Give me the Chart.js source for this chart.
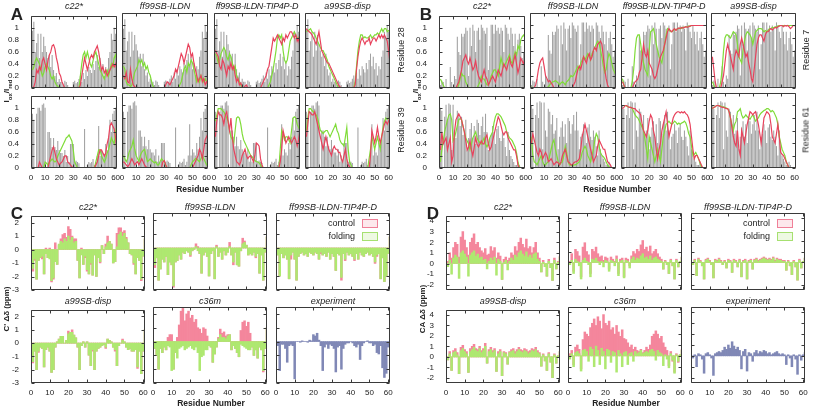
<!DOCTYPE html>
<html><head><meta charset="utf-8">
<script src="https://cdn.jsdelivr.net/npm/chart.js@4.4.1/dist/chart.umd.min.js"></script>
<style>
html,body{margin:0;padding:0;background:#fff}
body{width:813px;height:409px;position:relative;overflow:hidden;font-family:"Liberation Sans",Arial,sans-serif;color:#222}
canvas{position:absolute}
</style></head><body>
<script>
// ---------- categories / ticks ----------
const RESIDUES = Array.from({length:61},(_,i)=>i+1);
const X_TICKS = [0,10,20,30,40,50,60];
const AB_YTICKS = [0,0.2,0.4,0.6,0.8,1];
const C_YTICKS = [-3,-2,-1,0,1,2];
const D_YTICKS = [-2,-1,0,1,2,3,4];
const MODELS_AB = ['c22*','ff99SB-ILDN','ff99SB-ILDN-TIP4P-D','a99SB-disp'];
const MODELS_CD_ROW1 = ['c22*','ff99SB-ILDN','ff99SB-ILDN-TIP4P-D'];
const MODELS_CD_ROW2 = ['a99SB-disp','c36m','experiment'];

// ---------- Panel A, residue 28 ----------
const A28_GRAY=[.95,1.1,.6,.75,.9,.5,.9,.6,.85,.7,.6,.5,.55,.35,.55,.3,.2,.25,.1,.15,.1,.1,.05,.12,.1,.05,0,0,0,.1,.12,.08,.1,.15,.2,.1,.25,.15,.3,.2,.35,.3,.25,.4,.3,.45,.55,.35,.5,.3,.4,.2,.35,.3,.5,.6,.9,.8,1.0,.9,.7];
const A28_C22_RED=[0,.02,.1,.3,.25,.35,.3,.45,.5,.4,.3,.45,.55,.6,.7,.72,.65,.5,.4,.25,.2,.1,.05,0,0,0,0,0,0,0,0,0,0,0,.05,.2,.35,.5,.4,.3,.4,.5,.55,.5,.6,.65,.7,.6,.45,.3,.35,.25,.3,.2,.25,.3,.35,.4,.35,.4,.3];
const A28_C22_GRN=[.3,.35,.45,.5,.45,.4,.3,.2,.25,.35,.4,.35,.3,.2,.15,.2,.1,.05,.03,0,0,0,0,0,0,0,0,0,0,0,0,0,0,0,.2,.4,.55,.6,.5,.6,.5,.4,.35,.45,.55,.6,.5,.4,.3,.25,.2,.15,.25,.3,.2,.3,.4,.35,.5,.55,.45];
const A28_FF_RED=[.2,.15,.25,.1,.08,.3,.15,.05,.02,0,0,0,0,0,0,0,0,0,0,0,0,0,0,0,0,0,0,0,0,0,.05,.1,.08,.05,.1,.15,.2,.3,.25,.35,.45,.55,.5,.4,.5,.6,.7,.65,.5,.55,.4,.3,.2,.1,.15,.2,.1,.15,.05,.1,.05];
const A28_FF_GRN=[.35,.3,.1,.05,.05,.02,.05,.15,.25,.3,.35,.45,.4,.45,.35,.4,.3,.35,.25,.2,.1,.03,0,0,0,0,0,0,0,0,0,0,0,0,0,0,0,0,0,0,.05,.1,.2,.3,.35,.25,.4,.35,.45,.4,.3,.2,.1,.15,.1,.2,.15,.1,.15,.1,.05];
const A28_T4_RED=[.6,.55,.5,.35,.3,.45,.4,.3,.2,.35,.3,.4,.3,.35,.2,.1,.15,.05,.08,.02,0,.03,.05,0,0,0,0,0,0,0,0,0,0,.05,.1,.15,.2,.3,.35,.5,.65,.8,.75,.8,.85,.8,.75,.7,.8,.75,.85,.8,.85,.9,.9,.85,.8,.85,.75,.8,.65];
const A28_T4_GRN=[.55,.5,.4,.45,.55,.6,.65,.6,.5,.45,.55,.5,.4,.3,.35,.2,.15,.1,.05,0,0,0,0,0,0,0,0,0,0,0,0,0,0,0,0,0,0,0,.05,.1,.2,.3,.45,.6,.8,.85,.8,.85,.6,.45,.4,.45,.6,.75,.8,.85,.9,.85,.8,.8,.75];
const A28_A99_RED=[.95,.92,.9,.88,.85,.8,.75,.7,.8,.9,.75,.6,.55,.5,.45,.4,.4,.35,.3,.25,.2,.15,.1,.05,.02,0,0,0,0,0,0,0,0,0,0,.05,.3,.5,.65,.75,.8,.75,.7,.75,.75,.8,.7,.75,.8,.8,.75,.8,.85,.8,.85,.8,.85,.8,.75,.6,.4];
const A28_A99_GRN=[.9,.92,.93,.95,.9,.88,.85,.8,.75,.7,.65,.6,.6,.55,.5,.45,.35,.3,.25,.2,.15,.1,.05,0,0,0,0,0,0,0,0,0,0,0,0,.1,.35,.6,.75,.85,.85,.8,.82,.8,.8,.82,.85,.8,.82,.85,.85,.88,.85,.9,.95,.9,.95,.95,.9,.92,.9];

// ---------- Panel A, residue 39 ----------
const A39_GRAY=[.9,.8,0,.9,1.0,1.0,.95,1.05,1.07,1.0,0,.6,.6,.5,.35,.5,.35,.3,.45,.3,.25,.25,.2,.3,.1,.2,.1,.4,.4,.4,.1,.12,.1,.08,0,0,0,.65,0,.05,.1,.08,.1,.15,.05,.1,.2,.7,.2,.3,.25,.2,.4,.3,.5,.8,.6,.9,.95,1.0,.6];
const A39_C22_RED=[0,0,0,0,0,.1,.05,0,0,0,0,0,.1,.2,.3,.35,.25,.15,.1,.05,.08,.1,.15,.2,.2,.1,.08,.05,.02,0,0,0,0,0,0,0,0,0,0,0,0,0,0,0,0,.05,.1,.2,.3,.3,.25,.2,.25,.4,.5,.7,.75,.7,.65,.5,.3];
const A39_C22_GRN=[0,0,0,0,0,0,0,0,0,.1,.08,.05,.1,.12,.15,.12,.1,.12,.2,.25,.3,.35,.4,.45,.5,.52,.55,.5,.45,.3,.1,.05,0,0,0,0,0,0,0,0,0,0,0,0,0,.1,.2,.3,.3,.2,.15,.1,.15,.25,.3,.4,.5,.45,.4,.6,.7];
const A39_FF_RED=[.1,.08,.05,.02,.05,.1,.15,.1,.05,.08,.1,.05,.1,.15,.1,.05,.02,0,0,0,0,0,0,0,0,0,0,0,.1,.12,.05,0,0,0,0,0,0,0,0,0,0,0,0,0,0,0,0,0,0,0,.05,.1,.15,.2,.3,.25,.15,.3,.45,.5,.55];
const A39_FF_GRN=[.2,.15,.1,.15,.25,.3,.35,.45,.3,.2,.15,.1,.2,.25,.28,.3,.2,.1,.12,.15,.12,.1,.08,.1,.05,.05,.1,.15,.12,.1,.05,0,0,0,0,0,0,0,0,0,0,0,0,0,0,0,0,0,.05,.1,.12,.15,.15,.12,.1,.15,.2,.15,.1,.05,.03];
const A39_T4_RED=[.5,.75,.9,.85,.85,.8,.7,.85,.9,.75,.6,.8,.5,.3,.2,.1,.08,.05,.1,.2,.25,.3,.2,.15,.18,.2,.15,.1,.2,.4,.38,.35,.15,.05,0,0,0,0,0,0,0,0,0,0,0,0,.1,.3,.6,.5,.4,.45,.5,.45,.4,.45,.5,.45,.35,.45,.6];
const A39_T4_GRN=[.75,.85,.95,.95,.95,.92,.9,.85,.8,.75,.6,.5,.45,.4,.6,.8,.82,.8,.7,.55,.45,.4,.35,.3,.25,.2,.18,.15,.12,.1,.1,.08,.05,.02,0,0,0,0,0,0,0,0,0,0,0,0,.3,.6,.55,.45,.5,.5,.45,.4,.6,.8,.82,.8,.7,.65,.6];
const A39_A99_RED=[.5,.7,.9,.88,.85,.85,.9,.8,.7,.6,.5,.4,.3,.4,.5,.4,.3,.25,.2,.3,.35,.3,.3,.25,.25,.15,.1,.2,.3,.15,.05,.02,0,0,0,0,0,0,0,0,0,0,0,0,0,0,.2,.6,.5,.4,.5,.65,.5,.4,.5,.6,.7,.75,.7,.75,.8];
const A39_A99_GRN=[.6,.8,.95,.95,.92,.9,.88,.85,.8,.7,.6,.58,.55,.58,.6,.6,.55,.5,.55,.6,.65,.7,.6,.55,.45,.4,.38,.35,.5,.65,.3,.1,.05,0,0,0,0,0,0,0,0,0,0,0,0,.15,.3,.5,.4,.3,.4,.5,.4,.3,.5,.65,.75,.8,.78,.8,.8];

// ---------- Panel B, residue 7 ----------
const B7_GRAY=[.05,.12,.1,0,.15,0,0,.35,.1,0,.2,.15,.85,.6,.55,.9,.85,.9,1.0,.95,.2,1.0,.7,1.05,.95,.6,.95,1.0,.8,1.05,1.0,.95,.9,1.0,.3,.7,1.05,1.05,.9,1.05,.95,1.0,.9,1.0,.95,.6,1.05,1.0,.9,.8,1.0,.9,.7,.9,.6,.8,.9,.7,.5,.6,.4];
const B7_C22_RED=[0,0,0,0,0,0,0,0,0,0,0,0,.05,.1,.2,.3,.45,.5,.55,.45,.4,.5,.4,.3,.35,.45,.3,.2,.15,.1,.2,.3,.2,.15,.05,.1,.15,.2,.15,.1,.2,.3,.25,.2,.3,.4,.35,.3,.4,.5,.4,.35,.45,.55,.4,.25,.35,.5,.45,.4,.5];
const B7_C22_GRN=[.15,.1,.05,0,0,0,0,0,0,0,0,0,0,.05,.15,.25,.2,.2,.1,.05,0,0,0,0,0,0,0,.05,.1,.2,.15,.15,.1,.05,.05,.1,.2,.25,.3,.3,.25,.2,.35,.5,.4,.35,.4,.45,.5,.55,.45,.4,.5,.6,.55,.7,.65,.8,.85,.88,.85];
const B7_FF_RED=[0,0,0,.05,.15,.3,.4,.45,.48,.35,.2,.15,.1,.12,.08,.05,0,0,0,0,0,0,0,0,0,0,0,0,0,0,.05,.1,.2,.3,.35,.3,.4,.5,.45,.4,.5,.55,.45,.5,.6,.65,.6,.7,.72,.75,.7,.5,.3,.15,.05,0,0,0,0,0,0];
const B7_FF_GRN=[.02,0,0,0,0,0,0,0,0,0,0,0,.02,.05,.08,.1,.1,.12,.1,.08,.05,.08,.1,.08,.05,.1,.12,.15,.2,.18,.2,.25,.3,.35,.3,.4,.45,.5,.45,.5,.55,.5,.45,.55,.6,.65,.7,.75,.72,.6,.5,.35,.25,.3,.45,.55,.5,.4,.3,.25,.2];
const B7_T4_RED=[.1,.05,0,0,0,0,0,0,.05,.1,.12,.15,.25,.3,.5,.7,.55,.5,.6,.4,.35,.3,.2,.15,.2,.3,.4,.5,.55,.6,.7,.8,.9,.95,.92,.9,.93,.95,.92,.95,.96,.95,.97,.96,.97,.98,.97,.98,.99,1,1,1,1,1,1,1,1,1,1,1,1];
const B7_T4_GRN=[.15,.05,0,0,0,0,0,.1,.3,.6,.8,.85,.85,.7,.5,.4,.3,.25,.2,.6,.9,.92,.95,.85,.7,.6,.5,.45,.4,.55,.7,.85,.95,.93,.9,.9,.92,.94,.93,.95,.95,.96,.95,.97,.97,.98,.98,.99,.99,1,1,1,1,1,1,1,1,1,1,1,1];
const B7_A99_RED=[.5,.3,.1,0,0,0,0,.1,.2,.4,.6,.7,.6,.5,.4,.3,.5,.6,.55,.5,.7,.8,.7,.6,.5,.55,.4,.3,.15,.1,.3,.5,.7,.8,.85,.85,.8,.75,.85,.9,.9,.93,.95,.93,.95,.97,.96,.98,.99,1,1,.98,1,.99,1,.98,.95,.97,1,1,.98];
const B7_A99_GRN=[.1,.05,0,0,0,0,.1,.3,.6,.8,.85,.85,.82,.8,.85,.9,.88,.85,.7,.5,.45,.4,.6,.75,.85,.9,.88,.85,.8,.7,.8,.9,.92,.95,.95,.95,.93,.9,.92,.9,.92,.95,.95,.97,.96,.98,.98,.99,1,1,1,1,1,1,1,1,1,1,1,1,1];

// ---------- Panel B, residue 61 ----------
const B61_GRAY=[1.0,.95,0,.85,1.05,.8,1.07,1.05,.3,1.05,.6,.5,.95,.9,.7,.85,.55,.6,.8,.3,.5,.65,.75,.5,.7,.4,.8,.75,.55,.7,.85,.6,.9,.6,.3,.5,.55,.7,.6,.4,.65,.7,.5,.45,.6,.5,.35,.2,.6,.3,.2,.15,.1,.05,.05,.1,.05,0,0,0,0];
const B61_C22_RED=[.3,.6,.4,.45,.5,.3,.4,.5,.1,.2,.6,.8,.85,.9,.85,.8,.7,.6,.45,.3,.35,.45,.3,.2,.35,.5,.4,.35,.4,.45,.4,.4,.5,.55,.4,.3,.35,.45,.55,.65,.75,.85,.8,.7,.6,.55,.6,.6,.5,.45,.4,.35,.3,.3,.2,.05,0,0,0,0,0];
const B61_C22_GRN=[.1,.3,.45,.6,.7,.8,.88,.9,.8,.45,.5,.6,.7,.8,.82,.8,.7,.6,.5,.45,.4,.3,.4,.5,.55,.6,.5,.45,.42,.4,.45,.5,.4,.35,.4,.5,.55,.6,.75,.85,.9,.9,.88,.85,.8,.75,.7,.6,.55,.5,.48,.45,.4,.35,.25,.1,.02,0,0,0,0];
const B61_FF_RED=[.4,.55,.45,.35,.25,.2,.3,.25,.15,.2,.25,.2,.1,.12,.15,.1,.05,.08,.1,.08,.05,.1,.2,.25,.3,.2,.1,.08,.05,.05,.08,.1,.1,.12,.15,.3,.5,.6,.7,.6,.5,.4,.3,.2,.1,.15,.2,.35,.45,.4,.35,.3,.3,.2,.1,.08,.05,0,0,0,0];
const B61_FF_GRN=[.5,.2,.1,.08,.05,.1,.15,.2,.1,.05,.05,.08,.1,.2,.3,.4,.45,.3,.2,.1,.05,.08,.1,.2,.35,.25,.1,.05,.05,.03,.05,.05,.06,.08,.1,.15,.25,.3,.35,.3,.2,.15,.1,.2,.3,.45,.55,.5,.35,.25,.2,.18,.15,.1,.05,.02,0,0,0,0,0];
const B61_T4_RED=[.95,.97,1,1,.98,.97,.97,.96,.95,.95,.92,.9,.88,.85,.7,.6,.55,.5,.6,.75,.85,.8,.6,.5,.3,.15,.3,.4,.6,.7,.8,.9,.7,.5,.6,.7,.8,.85,.88,.9,.9,.88,.9,.88,.9,.87,.85,.8,.7,.5,.3,.15,.2,.2,.15,.1,.05,0,0,0,0];
const B61_T4_GRN=[1,1,1,.99,.98,.97,.97,.95,.9,.85,.82,.8,.75,.7,.65,.6,.45,.3,.15,.5,.4,.3,.2,.1,.2,.3,.2,.1,.3,.5,.6,.7,.72,.75,.72,.7,.72,.75,.73,.7,.72,.7,.72,.73,.75,.72,.65,.55,.5,.35,.2,.22,.25,.2,.15,.08,.02,0,0,0,0];
const B61_A99_RED=[.95,.97,.98,1,1,.99,.98,.97,.97,.96,.95,.95,.9,.8,.65,.5,.4,.35,.6,.3,.2,.6,.5,.4,.55,.7,.8,.9,.88,.85,.88,.9,.8,.7,.55,.4,.6,.8,.85,.9,.88,.85,.7,.5,.45,.4,.55,.7,.5,.25,.22,.2,.15,.1,.05,0,0,0,0,0,0];
const B61_A99_GRN=[.95,.97,.98,1,1,1,.99,.98,.98,.97,.96,.95,.9,.8,.7,.6,.7,.75,.9,.92,.95,.85,.8,.82,.85,.82,.8,.78,.82,.85,.8,.75,.78,.8,.85,.88,.9,.92,.93,.95,.95,.93,.9,.92,.9,.85,.8,.7,.5,.4,.3,.25,.2,.1,.05,0,0,0,0,0,0];

// ---------- Panel C (C' delta delta, ppm) ----------
const C_C22_CTRL=[-1.6,-.8,-2.2,-.8,-.6,-.7,-1.8,.1,-.6,.1,-2.4,-2.2,.5,-1.1,.3,.8,1.1,1.2,.9,1.7,1.5,1.0,.8,.8,-.8,-2.1,.1,-1.1,-.6,-1.6,-1.8,-1.1,-1.9,-.4,-2.0,-.6,-1.0,.3,-.3,.4,1.0,.6,.4,-1.0,-.9,1.2,1.6,1.6,1.3,1.4,.9,.5,-.3,-.4,-1.1,-1.8,-.6,-.8,-2.3,-.5,.8];
const C_C22_FOLD=[-1.4,-.7,-2.2,-.8,-.6,-.5,-1.8,-.3,-.6,-.7,-2.3,-2.1,-.9,-1.1,.4,.6,.5,.8,.6,1.0,.7,.9,.5,.6,-.8,-2.1,-.4,-1.1,-.5,-1.5,-1.8,-1.0,-1.9,-.4,-2.0,-.6,-.9,.3,-.3,.2,.5,.6,.4,-1.0,-.9,.2,1.1,1.3,1.0,1.2,.8,.5,-.3,-.4,-1.0,-1.8,-.6,-.8,-2.2,-.5,.8];
const C_FF_CTRL=[-1.4,-.7,-2.3,-1.5,-.8,-1.0,-.6,-1.9,-1.0,-1.2,-2.8,-1.0,-.9,-.5,-.8,-.3,-.4,-.2,-.3,-.6,-.2,-.1,.3,.1,-.4,-1.8,-.5,-.3,-.6,-2.0,-.4,-.2,-2.2,.2,-.6,-.3,-.8,-.2,-.5,-.3,.4,-.5,-1.2,-.3,-1.2,-1.3,-.2,.7,.5,.2,-.5,-.4,-.5,-.3,-.7,-.4,-1.8,-.5,-2.3,-.3,.8];
const C_FF_FOLD=[-1.2,-.7,-2.3,-1.5,-.8,-1.0,-.6,-1.9,-1.0,-1.2,-2.7,-1.0,-.9,-.5,-.8,-.3,-.4,-.2,-.3,-.5,-.2,-.1,.1,-.2,-.4,-1.8,-.5,-.3,-.6,-2.0,-.4,-.2,-2.2,.1,-.6,-.3,-.8,-.2,-.5,-.3,.1,-.5,-1.0,-.3,-1.2,-1.3,-.2,.3,.4,.2,-.5,-.4,-.5,-.3,-.6,-.4,-1.8,-.5,-2.3,-.3,.8];
const C_T4_CTRL=[-.5,-2.0,-.4,-.7,-.5,-.8,-2.2,-.8,-.3,-.8,-2.3,-.6,-.4,-.3,-.5,-.4,-.6,-.3,-.4,-.5,-.3,-.4,-.8,-.4,-.5,-.4,-.6,-.3,-.8,-.4,-.6,-1.6,-.4,-.5,-2.3,-.4,-.9,-.3,-.5,-.4,-.6,-.9,-.4,-.8,-.3,-.5,-.6,-.4,-.3,-.5,-.4,-.6,-1.1,-.6,-.4,-2.2,-.7,-2.4,-2.0,-.4,.8];
const C_T4_FOLD=[-.5,-2.0,-.4,-.7,-.5,-.8,-2.2,-.5,-.3,-.8,-2.3,-.6,-.4,-.3,-.5,-.4,-.6,-.3,-.4,-.5,-.3,-.4,-.8,-.3,-.5,-.4,-.6,-.3,-.8,-.4,-.6,-1.6,-.4,-.5,-2.1,-.4,-.8,-.3,-.5,-.4,-.6,-.8,-.4,-.8,-.3,-.5,-.6,-.4,-.3,-.5,-.4,-.6,-1.0,-.5,-.4,-2.2,-.7,-2.4,-2.0,-.4,.8];
const C_A99_CTRL=[-1.5,-.6,-2.0,-.7,-.3,-.4,-1.8,-.5,-.3,-.6,-2.2,-2.0,-.3,.1,.3,.5,.5,0,.2,.9,.8,1.0,.6,.4,-.3,-2.0,-.2,.1,-.3,.1,-.9,-1.7,-.6,-2.0,-.6,-.4,-.3,-.2,-.1,-.4,.3,.2,.1,-.3,-.6,-1.7,-.2,0,.3,.1,-.3,-.5,-.4,-.6,-.6,-.5,-1.9,-.6,-2.3,-.6,1.0];
const C_A99_FOLD=[-1.4,-.6,-2.0,-.6,-.3,-.4,-1.8,-.5,-.3,-.6,-2.2,-2.0,-.3,.1,.3,.5,.5,0,.2,.7,.8,.8,.6,.4,-.3,-2.0,-.2,.1,-.3,.1,-.9,-1.7,-.5,-2.0,-.6,-.4,-.3,-.2,-.1,-.3,.3,.2,.1,-.3,-.5,-1.7,-.2,0,.2,.1,-.3,-.5,-.4,-.6,-.6,-.5,-1.8,-.6,-2.3,-.6,1.0];
const C_C36_CTRL=[-.5,-1.0,-2.0,-.5,-.8,-.4,-.6,.3,.5,.5,-2.0,-.8,.3,1.2,2.2,2.4,1.5,2.0,2.2,1.7,1.9,1.4,1.6,1.0,.9,.6,1.0,.9,.4,-.3,-.4,-1.5,-.9,-.4,.3,.9,.6,.7,.4,.5,.5,-.6,-.3,-.5,-.8,-1.1,.8,1.4,1.5,1.1,1.4,.6,-.4,-1.0,-.6,-1.2,-.4,-.6,-2.2,-.5,1.0];
const C_C36_FOLD=[-.5,-1.0,-2.0,-.5,-.8,-.4,-.6,-.3,-.4,-2.1,-2.0,-.8,-1.2,-.5,-.4,-.3,-.6,-.5,-.4,-.3,-.5,-.6,-.4,-.8,-2.1,-1.1,-1.0,-.6,-.6,-.3,-.4,-1.5,-.9,-.4,.2,.5,.3,.3,.2,.4,.5,-.6,-.3,-.5,-.8,-1.1,-.2,-.3,-.4,-.5,-.6,-.6,-.4,-1.0,-.6,-1.2,-.4,-.6,-2.1,-.5,1.0];
const C_EXP=[-.3,-2.1,-.2,-.2,-.5,-1.5,-.3,-.2,-.3,-2.7,0,0,-.05,.05,0,0,-.05,.1,.05,.5,.4,.6,.1,-.3,-2.1,-.4,-.2,-.5,-.2,-.3,-.5,-2.2,-.4,-.3,-2.0,-.5,-.2,-.1,-.1,0,-.1,-.3,-.4,-.2,-1.3,-.3,-.1,0,.05,-.1,-.1,-.3,-.2,-.8,-.9,-.3,-1.9,-2.6,-2.3,-.4,-.2];

// ---------- Panel D (CA delta delta, ppm) ----------
const D_C22_CTRL=[.2,1.0,.5,1.5,2.0,1.8,.6,2.5,3.0,2.2,1.5,.8,2.0,2.4,2.8,1.8,2.0,1.5,1.2,1.0,1.4,.8,.9,1.6,1.2,1.5,.5,1.0,.7,-1.5,.4,.6,.3,.5,1.0,.8,1.6,1.2,2.0,2.4,1.8,1.5,2.3,1.4,1.6,1.0,1.5,2.0,1.0,.5,-.8,.3,-.3,-1.2,.4,-.4,-1.6,.5,-.5,.2,.7];
const D_C22_FOLD=[-.3,.3,-1.0,.5,.8,.6,-1.4,1.0,1.2,.9,.6,-1.2,.8,1.0,1.2,.7,.9,.5,.6,.3,.4,-.5,.2,.5,.3,.6,-1.1,.4,.2,-1.5,.1,.3,-.6,.2,.5,.3,.8,.6,1.0,1.2,.9,.7,1.1,.6,.8,.5,.9,1.0,.4,.2,-.8,.1,-.3,-1.2,.2,-.4,-1.6,.3,-.5,.1,.6];
const D_FF_CTRL=[.1,.8,-.8,1.2,1.0,.6,-1.3,1.4,1.8,1.0,.7,-1.0,1.2,1.0,1.4,.8,.5,.6,.2,.5,.4,-.6,.5,.3,.1,.6,-1.0,.3,.4,-1.3,.4,.3,-.3,.6,1.0,.8,1.2,1.0,1.6,2.0,1.2,1.4,1.0,1.5,.8,1.0,1.2,.8,.5,.3,-.6,.2,-.2,-1.0,.3,-.3,-1.5,.3,-.4,.1,.5];
const D_FF_FOLD=[-.2,.2,-1.0,.3,.1,-.3,-1.5,.2,.4,.1,-.2,-1.3,.3,.2,.4,.1,-.2,.1,-.4,.2,.1,-.8,.2,.1,-.3,.3,-1.2,.1,.2,-1.4,.2,.1,-.5,.3,.5,.2,.4,.3,.6,.8,.4,.5,.3,.6,.2,.4,.5,.3,.2,.1,-.6,.1,-.2,-1.0,.2,-.3,-1.5,.2,-.4,.1,.5];
const D_T4_CTRL=[-.2,.3,-1.2,.4,.2,-.3,-1.5,.3,.4,.2,-.2,-1.4,.3,.2,.4,.2,-.2,.2,-.5,.3,.2,-.9,.3,.2,-.4,.3,-1.3,.2,.3,-1.5,.2,.3,-.6,.3,.4,.2,.3,.4,.5,.4,.3,.4,.3,.5,.2,.4,.3,.3,.2,.2,-.7,.2,-.3,-1.1,.2,-.4,-1.6,.3,-.5,.1,.4];
const D_T4_FOLD=[-.2,.2,-1.2,.3,.1,-.3,-1.5,.2,.3,.1,-.2,-1.4,.2,.1,.3,.1,-.2,.1,-.5,.2,.1,-.9,.2,.1,-.4,.2,-1.3,.1,.2,-1.5,.1,.2,-.6,.2,.3,.1,.2,.3,.4,.3,.2,.3,.2,.4,.1,.3,.2,.2,.1,.1,-.7,.1,-.3,-1.1,.1,-.4,-1.6,.2,-.5,.1,.4];
const D_A99_CTRL=[-.3,.5,-1.3,.6,.8,.4,-1.6,.9,1.1,.7,.5,-1.5,.8,1.0,1.2,.8,.7,1.0,.6,.8,1.3,-.6,.7,.9,.6,.8,-1.4,.5,.7,-1.8,.5,.4,-.7,.5,.7,.8,.5,.7,.9,.7,.6,.8,.7,.5,.6,.8,.7,.9,.6,.4,-.9,.3,-.4,-1.3,.4,-.5,-2.0,.3,-.6,.1,.5];
const D_A99_FOLD=[-.3,.3,-1.3,.4,.5,.2,-1.6,.6,.8,.5,.3,-1.5,.5,.7,.9,.6,.5,.8,.4,.6,1.0,-.6,.5,.7,.4,.6,-1.4,.3,.5,-1.8,.4,.3,-.7,.4,.5,.6,.3,.5,.7,.5,.4,.6,.5,.3,.4,.6,.5,.7,.4,.3,-.9,.2,-.4,-1.3,.3,-.5,-2.0,.2,-.6,.1,.5];
const D_C36_CTRL=[.2,.5,-.8,.8,1.0,.6,-1.2,1.5,2.2,2.0,1.8,2.6,3.0,3.4,2.8,3.6,3.2,2.5,3.8,3.0,2.8,3.2,2.4,2.6,2.0,2.8,2.2,1.8,2.4,1.6,1.5,1.2,.8,1.0,.6,.8,.5,.4,.6,.3,.5,.8,.6,1.0,1.8,2.0,2.3,2.0,1.6,1.8,1.2,.8,.5,-.9,.4,-.5,-1.5,.2,-.6,.1,.6];
const D_C36_FOLD=[-.3,.2,-1.0,.3,.4,.2,-1.4,.5,.6,.4,-.5,.8,.6,-1.0,.9,.5,-.8,.7,.4,-1.2,.6,.5,-.6,.4,.3,-1.5,.5,.2,-1.0,.3,.4,-.8,.2,.3,-.5,.4,.2,.3,.5,.2,.3,.4,.3,.5,.6,.4,-.4,.5,.3,.2,-.9,.1,-.3,-1.1,.2,-.4,-1.6,.1,-.5,.1,.5];
const D_EXP=[-.2,.1,-1.0,.2,.1,-.3,-1.6,.2,.3,.1,-.2,-1.8,.2,.3,.4,.3,.5,.8,.6,1.0,.7,1.3,.9,.6,.8,.5,-1.2,.4,.6,-1.4,.3,.2,-.5,.3,.5,.2,.4,.3,.5,.4,.2,.3,.1,.2,.3,.4,.2,.1,.2,.1,-.8,.1,-.2,-1.0,.1,-.3,-1.7,.1,-.4,.1,.3];

// ---------- styling ----------
Chart.defaults.font.family = "'Liberation Sans', Arial, sans-serif";
Chart.defaults.font.size = 8;
Chart.defaults.color = '#222';
const COL_GRAY='rgba(135,135,135,0.78)', COL_RED='#e8425c', COL_GRN='#7fdc38',
      COL_PINK='#f4869c', COL_LGRN='#aee870', COL_EXP='#8088b6';

const framePlugin = {
  id:'frame',
  afterDatasetsDraw(chart){
    const {ctx, chartArea:a, scales:{x,y}} = chart;
    ctx.save(); ctx.strokeStyle='#3a3a3a'; ctx.lineWidth=1; ctx.beginPath();
    const L=Math.round(a.left)+0.5, R=Math.round(a.right)-0.5, T=Math.round(a.top)+0.5, B=Math.round(a.bottom)-0.5;
    ctx.rect(L,T,R-L,B-T);
    const tl=3;
    x.ticks.forEach(t=>{const p=Math.round(x.getPixelForValue(t.value))+0.5; ctx.moveTo(p,B);ctx.lineTo(p,B-tl);ctx.moveTo(p,T);ctx.lineTo(p,T+tl);});
    y.ticks.forEach(t=>{const p=Math.round(y.getPixelForValue(t.value))+0.5; ctx.moveTo(L,p);ctx.lineTo(L+tl,p);ctx.moveTo(R,p);ctx.lineTo(R-tl,p);});
    ctx.stroke(); ctx.restore();
  }
};

const xy = vals => RESIDUES.map((r,i)=>({x:r,y:vals[i]}));
const lineDs = (vals,color,order)=>({type:'line',data:xy(vals),borderColor:color,borderWidth:1.2,pointRadius:0,tension:0,fill:false,order});
const barDs = (vals,color,order,pct)=>({type:'bar',data:xy(vals),backgroundColor:color,borderWidth:0,barPercentage:pct,categoryPercentage:1,grouped:false,order});

function makeChart(fx,fy,fw,fh,yr,yticks,showX,showY,datasets){
  const L=30,R=9,T=6,B=14,EXTRA=10;
  const W=fw+L+R, H=fh+T+B+EXTRA;
  const cv=document.createElement('canvas');
  cv.width=W; cv.height=H;
  cv.style.cssText=`left:${fx-L}px;top:${fy-T}px;width:${W}px;height:${H}px`;
  document.body.appendChild(cv);
  new Chart(cv,{type:'bar',data:{datasets},options:{
    responsive:false,animation:false,devicePixelRatio:1,events:[],
    layout:{padding:{left:0,right:R,top:T,bottom:EXTRA}},
    plugins:{legend:{display:false},tooltip:{enabled:false}},
    scales:{
      x:{type:'linear',min:0,max:61,offset:false,grid:{display:false},border:{display:false},
         ticks:{display:showX,autoSkip:false,maxRotation:0,padding:-3,callback:v=>String(v)},
         afterBuildTicks(s){s.ticks=X_TICKS.map(v=>({value:v}));},
         afterFit(s){s.height=B;}},
      y:{type:'linear',min:yr[0],max:yr[1],grid:{display:false},border:{display:false},
         ticks:{display:showY,autoSkip:false,padding:4,callback:v=>String(v)},
         afterBuildTicks(s){s.ticks=yticks.map(v=>({value:v}));},
         afterFit(s){s.width=L;}}
    }},plugins:[framePlugin]});
}

function label(html,cx,cy,css,rot){
  const d=document.createElement('div');
  d.innerHTML=html;
  d.style.cssText=`position:absolute;left:${cx}px;top:${cy}px;transform:translate(-50%,-50%)${rot?` rotate(${rot}deg)`:''};white-space:nowrap;line-height:1;${css}`;
  document.body.appendChild(d);
}

// ---------- layout ----------
const AB_TOPS=[13,93], AB_H=75;
const A_LEFTS=[31,122,214,305], B_LEFTS=[439,530,621,711];
const AB_W=[86,86,86,85];
const CD_TOPS=[213,307], CD_H=[77,76];
const C_LEFTS=[31,153,276], D_LEFTS=[446,568,691], CD_W=114;

const A_SERIES=[
  {gray:A28_GRAY,lines:[[A28_C22_RED,A28_C22_GRN],[A28_FF_RED,A28_FF_GRN],[A28_T4_RED,A28_T4_GRN],[A28_A99_RED,A28_A99_GRN]]},
  {gray:A39_GRAY,lines:[[A39_C22_RED,A39_C22_GRN],[A39_FF_RED,A39_FF_GRN],[A39_T4_RED,A39_T4_GRN],[A39_A99_RED,A39_A99_GRN]]}];
const B_SERIES=[
  {gray:B7_GRAY,lines:[[B7_C22_RED,B7_C22_GRN],[B7_FF_RED,B7_FF_GRN],[B7_T4_RED,B7_T4_GRN],[B7_A99_RED,B7_A99_GRN]]},
  {gray:B61_GRAY,lines:[[B61_C22_RED,B61_C22_GRN],[B61_FF_RED,B61_FF_GRN],[B61_T4_RED,B61_T4_GRN],[B61_A99_RED,B61_A99_GRN]]}];

[[A_LEFTS,A_SERIES],[B_LEFTS,B_SERIES]].forEach(([lefts,series])=>{
  series.forEach((row,r)=>{
    row.lines.forEach(([red,grn],c)=>{
      makeChart(lefts[c],AB_TOPS[r],AB_W[c],AB_H,[0,1.2],AB_YTICKS,r===1,c===0,[
        lineDs(red,COL_RED,0),lineDs(grn,COL_GRN,1),barDs(row.gray,COL_GRAY,2,0.75)]);
    });
  });
  MODELS_AB.forEach((m,c)=>label(m,lefts[c]+AB_W[c]/2,6,`font-style:italic;font-size:9px;${c===2?'letter-spacing:-0.3px;':''}`));
});

const C_PAIRS=[[[C_C22_CTRL,C_C22_FOLD],[C_FF_CTRL,C_FF_FOLD],[C_T4_CTRL,C_T4_FOLD]],[[C_A99_CTRL,C_A99_FOLD],[C_C36_CTRL,C_C36_FOLD],[C_EXP]]];
const D_PAIRS=[[[D_C22_CTRL,D_C22_FOLD],[D_FF_CTRL,D_FF_FOLD],[D_T4_CTRL,D_T4_FOLD]],[[D_A99_CTRL,D_A99_FOLD],[D_C36_CTRL,D_C36_FOLD],[D_EXP]]];

[[C_LEFTS,C_PAIRS,[-3,2.5],C_YTICKS],[D_LEFTS,D_PAIRS,[-2.5,4.5],D_YTICKS]].forEach(([lefts,pairs,yr,yt])=>{
  pairs.forEach((row,r)=>{
    row.forEach((p,c)=>{
      const ds = p.length===2 ? [barDs(p[0],COL_PINK,1,1),barDs(p[1],COL_LGRN,0,1)] : [barDs(p[0],COL_EXP,0,1)];
      makeChart(lefts[c],CD_TOPS[r],CD_W,CD_H[r],yr,yt,r===1,c===0,ds);
    });
  });
  MODELS_CD_ROW1.forEach((m,c)=>label(m,lefts[c]+CD_W/2,207,'font-style:italic;font-size:9px;'));
  MODELS_CD_ROW2.forEach((m,c)=>label(m,lefts[c]+CD_W/2,301,'font-style:italic;font-size:9px;'));
  const lx=lefts[2];
  label('control',lx+79,223,'font-size:9px;transform:translate(-100%,-50%)');
  label('folding',lx+79,236,'font-size:9px;transform:translate(-100%,-50%)');
  [[223,'#f08098','#fde8ec'],[236,'#a6e070','#eef9e2']].forEach(([y,b,f])=>{
    const d=document.createElement('div');
    d.style.cssText=`position:absolute;left:${lx+86}px;top:${y-4}px;width:14px;height:7px;border:1px solid ${b};background:${f}`;
    document.body.appendChild(d);
  });
});

// ---------- panel letters & axis titles ----------
const bold='font-weight:bold;';
label('A',17,14,bold+'font-size:17px');
label('B',426,14,bold+'font-size:17px');
label('C',17,213,bold+'font-size:17px');
label('D',433,213,bold+'font-size:17px');
label('I<sub style="font-size:6px">ox</sub>/I<sub style="font-size:6px">red</sub>',8,91,bold+'font-size:8px',-90);
label('I<sub style="font-size:6px">ox</sub>/I<sub style="font-size:6px">red</sub>',417,91,bold+'font-size:8px',-90);
label('Residue 28',401,50,'font-size:9px;color:#222',-90);
label('Residue 39',401,130,'font-size:9px;color:#222',-90);
label('Residue 7',806,50,'font-size:9px;color:#222',-90);
label('Residue 61',806,130,'font-size:9px;color:#222',-90);
label('Residue Number',210,189,bold+'font-size:8.5px');
label('Residue Number',617,189,bold+'font-size:8.5px');
label('Residue Number',211,403,bold+'font-size:8.5px');
label('Residue Number',626,403,bold+'font-size:8.5px');
label("C' &Delta;&delta; (ppm)",7,309,bold+'font-size:8px',-90);
label('CA &Delta;&delta; (ppm)',423,309,bold+'font-size:8px',-90);
</script>
</body></html>
